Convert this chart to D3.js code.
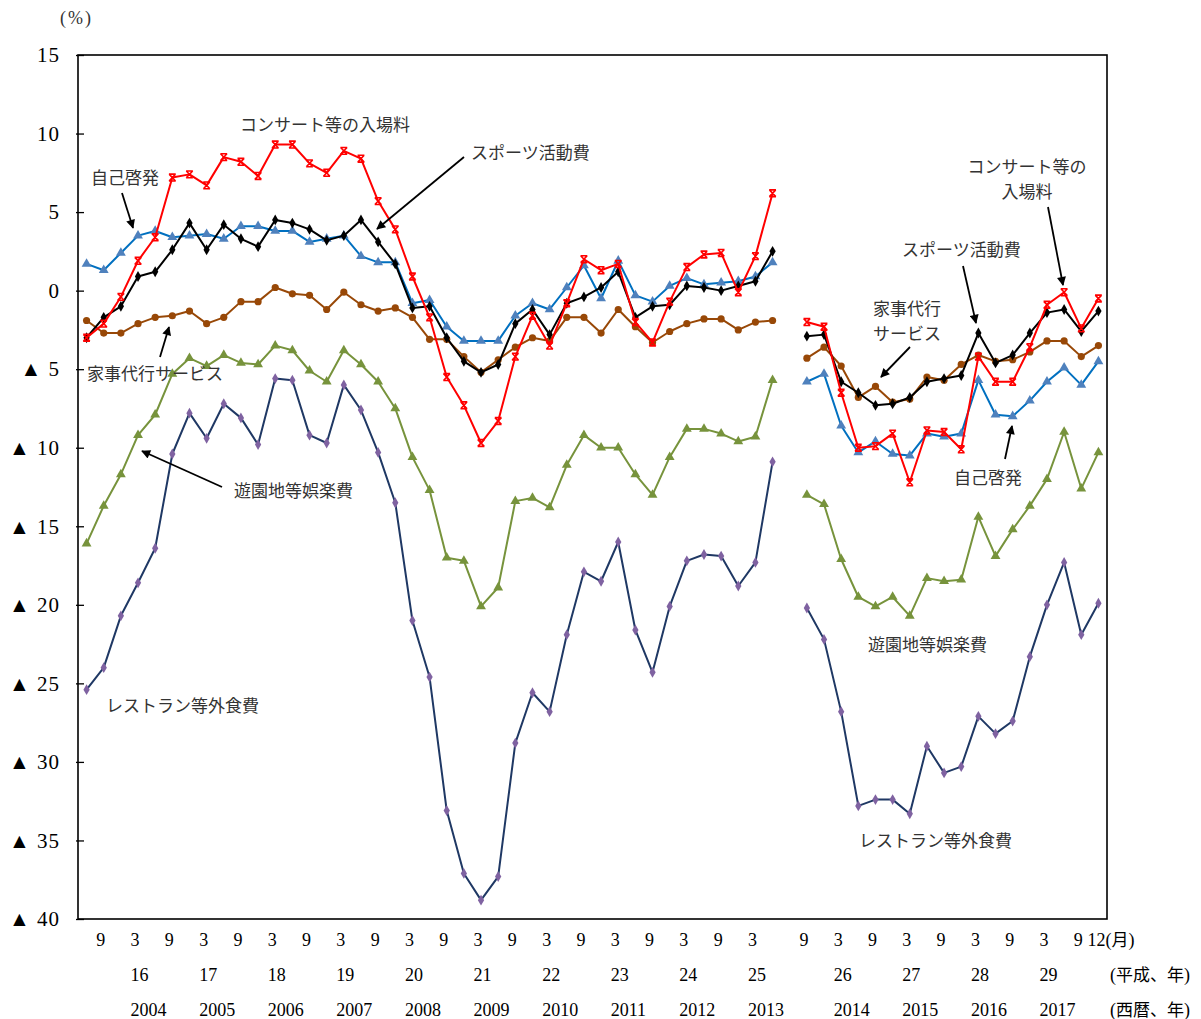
<!DOCTYPE html>
<html><head><meta charset="utf-8">
<script src="https://cdn.jsdelivr.net/npm/d3@7"></script>
<style>
body{margin:0;background:#fff}
text{font-family:"Liberation Serif","DejaVu Serif",serif}
.jp{font-family:"Noto Sans CJK JP","Noto Sans",sans-serif;fill:#333}
</style>
</head><body>
<svg id="chart" width="1201" height="1019"></svg>
<script>
// Quarterly periods; "break" marks the empty slot between the two series blocks
const categories = [
  "2003-06","2003-09","2003-12","2004-03","2004-06","2004-09","2004-12","2005-03","2005-06","2005-09",
  "2005-12","2006-03","2006-06","2006-09","2006-12","2007-03","2007-06","2007-09","2007-12","2008-03",
  "2008-06","2008-09","2008-12","2009-03","2009-06","2009-09","2009-12","2010-03","2010-06","2010-09",
  "2010-12","2011-03","2011-06","2011-09","2011-12","2012-03","2012-06","2012-09","2012-12","2013-03",
  "2013-06","break","2013-09","2013-12","2014-03","2014-06","2014-09","2014-12","2015-03","2015-06",
  "2015-09","2015-12","2016-03","2016-06","2016-09","2016-12","2017-03","2017-06","2017-09","2017-12"
];

// コンサート等の入場料 (%)
const concert = [
  -3.0,-2.1,-0.4,1.9,3.4,7.2,7.4,6.7,8.5,8.2,
  7.3,9.3,9.3,8.1,7.5,8.9,8.4,5.7,3.9,0.9,
  -1.7,-5.5,-7.3,-9.7,-8.3,-4.2,-1.6,-3.5,-0.8,2.0,
  1.3,1.7,-2.0,-3.3,-0.7,1.5,2.3,2.4,-0.1,2.2,
  6.2,null,-2.0,-2.3,-6.5,-10.0,-9.9,-9.1,-12.2,-8.9,
  -9.0,-10.1,-4.2,-5.8,-5.8,-3.6,-0.9,-0.1,-2.4,-0.5
];
// 自己啓発
const selfDev = [
  1.7,1.3,2.4,3.5,3.8,3.4,3.5,3.6,3.3,4.1,
  4.1,3.8,3.8,3.1,3.3,3.5,2.2,1.8,1.8,-0.8,
  -0.6,-2.3,-3.2,-3.2,-3.2,-1.6,-0.8,-1.2,0.2,1.6,
  -0.5,1.9,-0.3,-0.7,0.3,0.8,0.4,0.5,0.6,0.9,
  1.8,null,-5.8,-5.3,-8.6,-10.3,-9.6,-10.4,-10.5,-9.1,
  -9.3,-9.1,-5.7,-7.9,-8.0,-7.0,-5.8,-4.9,-6.0,-4.5
];
// スポーツ活動費
const sports = [
  -3.0,-1.7,-1.0,0.9,1.2,2.6,4.3,2.6,4.2,3.3,
  2.8,4.5,4.3,3.9,3.2,3.5,4.5,3.1,1.7,-1.1,
  -1.0,-3.0,-4.5,-5.2,-4.7,-2.1,-1.2,-2.8,-0.8,-0.4,
  0.2,1.2,-1.7,-1.0,-0.9,0.3,0.2,0.0,0.3,0.6,
  2.5,null,-2.9,-2.8,-5.8,-6.5,-7.3,-7.2,-6.8,-5.8,
  -5.6,-5.4,-2.7,-4.6,-4.1,-2.7,-1.4,-1.2,-2.6,-1.3
];
// 家事代行サービス
const housework = [
  -1.9,-2.7,-2.7,-2.1,-1.7,-1.6,-1.3,-2.1,-1.7,-0.7,
  -0.7,0.2,-0.2,-0.3,-1.2,-0.1,-0.9,-1.3,-1.1,-1.7,
  -3.1,-3.1,-4.2,-5.2,-4.4,-3.6,-3.0,-3.2,-1.7,-1.7,
  -2.7,-1.2,-2.3,-3.3,-2.6,-2.1,-1.8,-1.8,-2.5,-2.0,
  -1.9,null,-4.3,-3.6,-4.8,-6.8,-6.1,-7.1,-6.9,-5.5,
  -5.7,-4.7,-4.1,-4.5,-4.4,-3.9,-3.2,-3.2,-4.2,-3.5
];
// 遊園地等娯楽費
const amusement = [
  -16.1,-13.7,-11.7,-9.2,-7.9,-5.3,-4.3,-4.8,-4.1,-4.6,
  -4.7,-3.5,-3.8,-5.1,-5.8,-3.8,-4.7,-5.8,-7.5,-10.6,
  -12.7,-17.0,-17.2,-20.1,-18.9,-13.4,-13.2,-13.8,-11.1,-9.2,
  -10.0,-10.0,-11.7,-13.0,-10.6,-8.8,-8.8,-9.1,-9.6,-9.3,
  -5.7,null,-13.0,-13.6,-17.1,-19.5,-20.1,-19.5,-20.7,-18.3,
  -18.5,-18.4,-14.4,-16.9,-15.2,-13.7,-12.0,-9.0,-12.6,-10.3
];
// レストラン等外食費
const dining = [
  -25.4,-24.0,-20.7,-18.6,-16.4,-10.4,-7.8,-9.4,-7.2,-8.1,
  -9.8,-5.6,-5.7,-9.2,-9.7,-6.0,-7.6,-10.3,-13.5,-21.0,
  -24.6,-33.1,-37.1,-38.8,-37.3,-28.8,-25.6,-26.8,-21.9,-17.9,
  -18.5,-16.0,-21.6,-24.3,-20.1,-17.2,-16.8,-16.9,-18.8,-17.3,
  -10.9,null,-20.2,-22.2,-26.8,-32.8,-32.4,-32.4,-33.3,-29.0,
  -30.7,-30.3,-27.1,-28.2,-27.4,-23.3,-20.0,-17.3,-21.9,-19.9
];

const yTicks = [15,10,5,0,-5,-10,-15,-20,-25,-30,-35,-40];

const svg = d3.select("#chart");
const plotLeft = 78, plotRight = 1107, plotTop = 55, plotBottom = 919;

const x = d3.scalePoint().domain(categories).range([plotLeft, plotRight]).padding(0.5);
const y = d3.scaleLinear().domain([-40, 15]).range([plotBottom, plotTop]);

// arrowhead
svg.append("defs").append("marker")
  .attr("id", "arrow").attr("viewBox", "0 0 10 10")
  .attr("refX", 9).attr("refY", 5)
  .attr("markerWidth", 11).attr("markerHeight", 9)
  .attr("markerUnits", "userSpaceOnUse")
  .attr("orient", "auto")
  .append("path").attr("d", "M0,0 L10,5 L0,10 Z").attr("fill", "#000");

// plot frame
svg.append("rect")
  .attr("x", plotLeft).attr("y", plotTop)
  .attr("width", plotRight - plotLeft).attr("height", plotBottom - plotTop)
  .attr("fill", "none").attr("stroke", "#000").attr("stroke-width", 1.6);

// y axis
const yAxis = d3.axisLeft(y)
  .tickValues(yTicks)
  .tickSizeInner(-6).tickSizeOuter(0).tickPadding(18)
  .tickFormat(v => v < 0 ? "▲ " + (-v) : String(v));
const gy = svg.append("g").attr("transform", `translate(${plotLeft},0)`).call(yAxis);
gy.select(".domain").remove();
gy.selectAll(".tick line").attr("stroke", "#000").attr("stroke-width", 1.3).attr("x1", -2);
gy.selectAll(".tick text")
  .attr("font-family", "Liberation Serif").attr("font-size", 21)
  .attr("fill", "#000").attr("letter-spacing", 1);

svg.append("text").attr("x", 60).attr("y", 24)
  .attr("font-size", 18).attr("fill", "#333").attr("letter-spacing", 2).text("(%)");

// x-axis labels: month row, Heisei year row, western year row
const monthOf = c => +c.slice(5, 7);
const yearOf = c => +c.slice(0, 4);
const labelled = categories.filter(c => c !== "break" && (monthOf(c) === 3 || monthOf(c) === 9));
const gx = svg.append("g").attr("font-size", 18).attr("fill", "#000");
gx.selectAll(".m").data(labelled).join("text")
  .attr("x", c => x(c) - 7.5).attr("y", 945.5).text(c => monthOf(c));
const lastCat = categories[categories.length - 1];
gx.append("text").attr("x", x(lastCat) - 11).attr("y", 945.5)
  .html(monthOf(lastCat) + '(<tspan font-family="Noto Sans CJK JP" font-size="17">月</tspan>)');
const march = labelled.filter(c => monthOf(c) === 3);
gx.selectAll(".h").data(march).join("text")
  .attr("x", c => x(c) - 7.5).attr("y", 980.5).text(c => yearOf(c) - 1988);
gx.selectAll(".w").data(march).join("text")
  .attr("x", c => x(c) - 7.5).attr("y", 1015.5).text(c => yearOf(c));
gx.append("text").attr("x", 1110).attr("y", 980.5)
  .html('(<tspan font-family="Noto Sans CJK JP" font-size="17">平成、年</tspan>)');
gx.append("text").attr("x", 1110).attr("y", 1015.5)
  .html('(<tspan font-family="Noto Sans CJK JP" font-size="17">西暦、年</tspan>)');

// series
const series = [
  { name: "遊園地等娯楽費", values: amusement, line: "#77933C", mark: "#77933C", shape: "tri" },
  { name: "レストラン等外食費", values: dining, line: "#1F3864", mark: "#7F62A1", shape: "dia" },
  { name: "家事代行サービス", values: housework, line: "#984807", mark: "#984807", shape: "circle" },
  { name: "自己啓発", values: selfDev, line: "#0070C0", mark: "#4F81BD", shape: "tri" },
  { name: "スポーツ活動費", values: sports, line: "#000000", mark: "#000000", shape: "dia" },
  { name: "コンサート等の入場料", values: concert, line: "#FF0000", mark: "#FF0000", shape: "cross" }
];

const line = d3.line()
  .defined(d => d.v !== null)
  .x(d => x(d.c)).y(d => y(d.v));

const tri = d3.symbol().type(d3.symbolTriangle).size(42)();
const dia = d3.symbol().type(d3.symbolDiamond).size(34)();
const cross = "M-3.2,-3.4L3.2,3.4M3.2,-3.4L-3.2,3.4M-3.4,-3.4H3.4M-3.4,3.4H3.4";

series.forEach(s => {
  const pts = categories.map((c, i) => ({ c, v: s.values[i] }));
  const g = svg.append("g").attr("class", "series");
  g.append("path").datum(pts)
    .attr("d", line).attr("fill", "none")
    .attr("stroke", s.line).attr("stroke-width", 2).attr("stroke-linejoin", "round");
  const m = g.selectAll(".pt").data(pts.filter(d => d.v !== null)).join("g")
    .attr("transform", d => `translate(${x(d.c)},${y(d.v)})`);
  if (s.shape === "circle") {
    m.append("circle").attr("r", 3.6).attr("fill", s.mark);
  } else if (s.shape === "cross") {
    m.append("path").attr("d", cross).attr("fill", "none")
      .attr("stroke", s.mark).attr("stroke-width", 1.6);
  } else {
    m.append("path").attr("d", s.shape === "tri" ? tri : dia).attr("fill", s.mark);
  }
});

// annotations (multi-line ones as a single text block)
const notes = [
  { t: ["コンサート等の入場料"], x: 325, y: 123, a: "middle" },
  { t: ["スポーツ活動費"], x: 471, y: 151, a: "start" },
  { t: ["自己啓発"], x: 91, y: 176, a: "start" },
  { t: ["家事代行サービス"], x: 87, y: 372, a: "start" },
  { t: ["遊園地等娯楽費"], x: 234, y: 489, a: "start" },
  { t: ["レストラン等外食費"], x: 106, y: 704, a: "start" },
  { t: ["コンサート等の", "入場料"], x: 1027, y: 165, a: "middle", lh: 25 },
  { t: ["スポーツ活動費"], x: 902, y: 248, a: "start" },
  { t: ["家事代行", "サービス"], x: 873, y: 307, a: "start", lh: 25 },
  { t: ["自己啓発"], x: 954, y: 476, a: "start" },
  { t: ["遊園地等娯楽費"], x: 868, y: 643, a: "start" },
  { t: ["レストラン等外食費"], x: 859, y: 839, a: "start" }
];
notes.forEach(n => {
  const t = svg.append("text").attr("class", "jp")
    .attr("x", n.x).attr("y", n.y)
    .attr("dominant-baseline", "central")
    .attr("text-anchor", n.a).attr("font-size", 17);
  n.t.forEach((s, k) => {
    t.append("tspan").attr("x", n.x).attr("dy", k === 0 ? 0 : n.lh)
      .attr("dominant-baseline", "central").text(s);
  });
});

const arrows = [
  [464, 157, 377, 229],
  [122, 193, 133, 228],
  [160, 357, 169, 327],
  [222, 487, 142, 451],
  [1048, 207, 1063, 285],
  [963, 266, 976, 323],
  [910, 347, 881, 377],
  [1005, 459, 1012, 426]
];
svg.append("g").selectAll("line").data(arrows).join("line")
  .attr("x1", d => d[0]).attr("y1", d => d[1])
  .attr("x2", d => d[2]).attr("y2", d => d[3])
  .attr("stroke", "#000").attr("stroke-width", 1.8)
  .attr("marker-end", "url(#arrow)");
</script>
</body></html>
